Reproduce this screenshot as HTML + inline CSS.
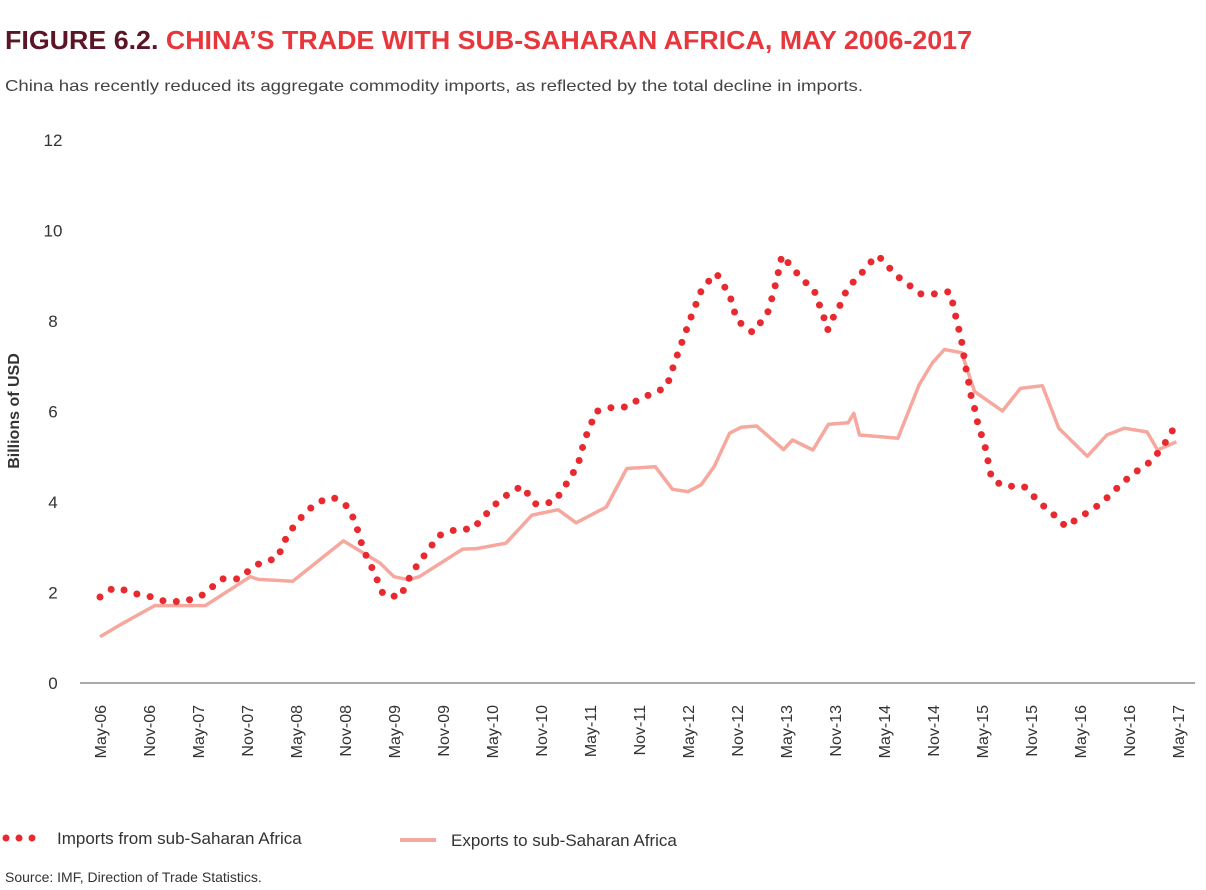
<!DOCTYPE html>
<html><head><meta charset="utf-8"><style>
html,body{margin:0;padding:0;background:#fff;}
svg{display:block;font-family:"Liberation Sans",sans-serif;}
</style></head><body>
<svg id="chart" width="1206" height="890" viewBox="0 0 1206 890">
<text x="5" y="49" font-size="26" font-weight="bold" textLength="967" lengthAdjust="spacingAndGlyphs"><tspan fill="#5b1526">FIGURE 6.2. </tspan><tspan fill="#e8373c">CHINA’S TRADE WITH SUB-SAHARAN AFRICA, MAY 2006-2017</tspan></text>
<text x="5" y="91" font-size="16" fill="#444" textLength="858" lengthAdjust="spacingAndGlyphs">China has recently reduced its aggregate commodity imports, as reflected by the total decline in imports.</text>
<g id="yticks"></g>
<text transform="translate(19,411) rotate(-90)" text-anchor="middle" font-size="16" fill="#333" font-weight="bold">Billions of USD</text>
<line x1="80" y1="683" x2="1195" y2="683" stroke="#555" stroke-width="1"/>
<g id="xticks"></g>
<g id="series"></g>
<g>
<line x1="6" y1="838" x2="42" y2="838" stroke="#e8292f" stroke-width="7" stroke-linecap="round" stroke-dasharray="0 13"/>
<text x="57" y="844" font-size="17" fill="#333">Imports from sub-Saharan Africa</text>
<line x1="400" y1="840" x2="436" y2="840" stroke="#f6a89e" stroke-width="4"/>
<text x="451" y="846" font-size="17" fill="#333">Exports to sub-Saharan Africa</text>
</g>
<text x="5" y="882" font-size="14" fill="#333">Source: IMF, Direction of Trade Statistics.</text>
</svg>
<script>
const yTickValues = [0, 2, 4, 6, 8, 10, 12];
const xTickLabels = ["May-06","Nov-06","May-07","Nov-07","May-08","Nov-08","May-09","Nov-09","May-10","Nov-10","May-11","Nov-11","May-12","Nov-12","May-13","Nov-13","May-14","Nov-14","May-15","Nov-15","May-16","Nov-16","May-17"];
// months since May-06
const importMonths = [0,1.6,3.1,4.8,6.4,8,10.4,12.6,13.6,14.8,17,18,19,20.4,21.7,22.3,22.9,23.7,24.6,25.7,26.7,28.6,30.3,31,31.6,32,32.5,33.3,34,34.7,36.8,37.4,38.1,39.2,40.3,41.4,43.7,45.6,46.9,48.1,49.4,50.6,51.7,52.5,53.4,55.6,56.6,57.6,58.5,59,59.5,60.1,60.7,62.9,64.6,66.2,67.8,69.4,70.4,71.5,72.6,73.8,75.5,76.3,77.1,77.5,78.1,79.9,80.8,81.7,82.2,82.7,83.1,83.5,84.9,86.1,87.4,88.1,88.6,89.1,89.7,90.5,91.2,91.9,93,94.1,95.2,96.1,97,98.2,99.4,100.5,102.3,104,104.5,104.9,105.4,105.7,105.9,106.3,106.5,107,107.4,107.9,108.4,108.8,109.2,110.7,113.1,114,114.9,116,117.2,118.3,119.8,121.2,122.8,123.9,125.1,126.3,127.5,128.7,129.6,130.4,131.1,131.8];
const importValues = [1.9,2.1,2.05,1.95,1.9,1.8,1.8,1.95,2.1,2.3,2.3,2.45,2.6,2.7,2.75,3.0,3.25,3.45,3.65,3.85,4.0,4.1,3.9,3.65,3.35,3.1,2.85,2.55,2.25,1.95,1.9,2.15,2.4,2.7,2.95,3.25,3.4,3.4,3.65,3.9,4.1,4.25,4.35,4.15,3.95,4.0,4.25,4.55,4.8,5.15,5.45,5.7,6.0,6.1,6.1,6.3,6.4,6.55,7.1,7.65,8.2,8.75,9.05,8.8,8.6,8.3,8.0,7.75,7.95,8.15,8.45,8.8,9.1,9.45,9.15,8.9,8.7,8.35,8.1,7.8,8.05,8.3,8.6,8.8,9.0,9.25,9.45,9.3,9.1,8.9,8.75,8.6,8.6,8.65,8.35,8.0,7.65,7.35,7.05,6.75,6.45,6.15,5.8,5.5,5.2,4.85,4.5,4.35,4.35,4.2,4.0,3.85,3.65,3.45,3.65,3.8,4.0,4.2,4.4,4.6,4.75,4.9,5.1,5.3,5.5,5.75];
const exportMonths = [0,2.8,6.7,12.9,18.4,19.4,23.6,29.8,34.3,36,37.8,39.1,44.4,46.1,49.7,52.9,56.1,58.3,62,64.5,68,70.1,72,73.6,75.2,77.1,78.5,80.4,83.7,84.8,87.3,89.2,91.6,92.3,93,97.7,100.3,101.9,103.4,105.5,107.1,110.5,112.7,115.4,117.4,120.9,123.3,125.4,128.2,129.5,131.8];
const exportValues = [1.02,1.32,1.71,1.71,2.35,2.29,2.25,3.14,2.65,2.35,2.28,2.35,2.96,2.97,3.09,3.71,3.83,3.54,3.89,4.74,4.78,4.28,4.23,4.38,4.78,5.52,5.65,5.68,5.16,5.37,5.15,5.72,5.75,5.96,5.48,5.41,6.59,7.07,7.37,7.3,6.44,6.01,6.51,6.57,5.63,5.01,5.48,5.63,5.55,5.15,5.33];

const NS = "http://www.w3.org/2000/svg";
const xScale = m => 100 + m * (1078 / 132);
const yScale = v => 683 - v * (543 / 12);

const yG = document.getElementById('yticks');
yTickValues.forEach(v => {
  const t = document.createElementNS(NS, 'text');
  t.setAttribute('x', 53); t.setAttribute('y', yScale(v) + 6);
  t.setAttribute('text-anchor', 'middle'); t.setAttribute('font-size', '17'); t.setAttribute('fill', '#333');
  t.textContent = v;
  
  
  yG.appendChild(t);
});
const xG = document.getElementById('xticks');
xTickLabels.forEach((lab, i) => {
  const x = xScale(i * 6);
  const t = document.createElementNS(NS, 'text');
  t.setAttribute('transform', `translate(${x + 6},705) rotate(-90)`);
  t.setAttribute('text-anchor', 'end'); t.setAttribute('font-size', '16'); t.setAttribute('fill', '#333');
  t.textContent = lab;
  
  
  xG.appendChild(t);
});
const sG = document.getElementById('series');
function pathD(ms, vs) { return ms.map((m, i) => (i ? 'L' : 'M') + xScale(m).toFixed(1) + ',' + yScale(vs[i]).toFixed(1)).join(' '); }
const ex = document.createElementNS(NS, 'path');
ex.setAttribute('d', pathD(exportMonths, exportValues));
ex.setAttribute('fill', 'none'); ex.setAttribute('stroke', '#f6a89e'); ex.setAttribute('stroke-width', '3.5'); ex.setAttribute('stroke-linejoin', 'round');


sG.appendChild(ex);
const im = document.createElementNS(NS, 'path');
im.setAttribute('d', pathD(importMonths, importValues));
im.setAttribute('fill', 'none'); im.setAttribute('stroke', '#e8292f'); im.setAttribute('stroke-width', '7'); im.setAttribute('stroke-linecap', 'round'); im.setAttribute('stroke-dasharray', '0 13.5');


sG.appendChild(im);
</script>
</body></html>
